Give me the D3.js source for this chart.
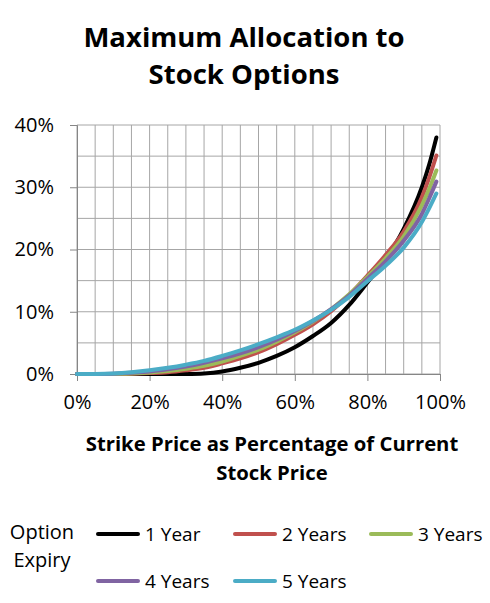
<!DOCTYPE html>
<html>
<head>
<meta charset="utf-8">
<script src="https://cdn.jsdelivr.net/npm/d3@7"></script>
<style>
  body { margin: 0; background: #fff; }
  text { font-family: "Open Sans", Lato, sans-serif; fill: #000; }
</style>
</head>
<body>
<div id="chart"></div>
<script>
// chart size
const width = 490;
const height = 603;
const margin = { left: 77, right: 50, top: 125, bottom: 229 };

// data (percent)
const strikePct = [0, 5, 10, 15, 20, 25, 30, 35, 40, 45, 50, 55, 60, 65, 70, 75, 80, 85, 90, 95, 97, 99];
const oneYear    = [0, 0, 0, 0, 0, 0, 0.02, 0.1, 0.4, 1.0, 1.8, 2.9, 4.3, 6.1, 8.2, 11.1, 14.7, 18.4, 23.3, 30.0, 33.6, 38.0];
const twoYears   = [0, 0, 0, 0.05, 0.15, 0.3, 0.6, 1.0, 1.7, 2.5, 3.5, 4.8, 6.3, 8.0, 10.1, 12.7, 15.8, 19.1, 22.9, 28.4, 31.5, 35.1];
const threeYears = [0, 0, 0.02, 0.1, 0.25, 0.5, 0.85, 1.3, 2.0, 2.9, 3.9, 5.2, 6.7, 8.4, 10.4, 12.8, 15.6, 18.6, 22.1, 27.1, 29.7, 32.7];
const fourYears  = [0, 0, 0.05, 0.2, 0.4, 0.75, 1.2, 1.8, 2.5, 3.3, 4.3, 5.5, 6.9, 8.5, 10.4, 12.6, 15.3, 18.1, 21.4, 25.7, 28.2, 30.9];
const fiveYears  = [0, 0.02, 0.1, 0.3, 0.6, 1.0, 1.5, 2.1, 2.9, 3.8, 4.8, 5.9, 7.1, 8.6, 10.3, 12.4, 14.9, 17.4, 20.3, 24.4, 26.6, 29.0];

const seriesNames = ["1 Year", "2 Years", "3 Years", "4 Years", "5 Years"];
const seriesValues = [oneYear, twoYears, threeYears, fourYears, fiveYears];
const seriesColors = ["#000000", "#c0504d", "#9bbb59", "#8064a2", "#4bacc6"];

const xTicks = [0, 20, 40, 60, 80, 100];
const yTicks = [0, 10, 20, 30, 40];

const svg = d3.select("#chart")
  .append("svg")
  .attr("width", width)
  .attr("height", height);

// scales
const x = d3.scaleLinear()
  .domain([0, 100])
  .range([margin.left, width - margin.right]);

const y = d3.scaleLinear()
  .domain([0, 40])
  .range([height - margin.bottom, margin.top]);

// title
const title = svg.append("text")
  .attr("text-anchor", "middle")
  .attr("font-size", "27.5px")
  .attr("font-weight", "bold");
title.append("tspan").attr("x", 244).attr("y", 47).text("Maximum Allocation to");
title.append("tspan").attr("x", 244).attr("y", 84).text("Stock Options");

// gridlines every 5%
svg.append("g")
  .selectAll("line")
  .data(d3.range(0, 101, 5))
  .join("line")
  .attr("x1", d => x(d)).attr("x2", d => x(d))
  .attr("y1", y(0)).attr("y2", y(40))
  .attr("stroke", "#a6a6a6")
  .attr("stroke-width", 1);

svg.append("g")
  .selectAll("line")
  .data(d3.range(0, 41, 5))
  .join("line")
  .attr("x1", x(0)).attr("x2", x(100))
  .attr("y1", d => y(d)).attr("y2", d => y(d))
  .attr("stroke", "#a6a6a6")
  .attr("stroke-width", 1);

// axes
const yAxis = svg.append("g")
  .attr("transform", `translate(${x(0)},0)`)
  .call(d3.axisLeft(y).tickValues(yTicks).tickSize(7).tickPadding(16).tickFormat(d => d + "%"));

const xAxis = svg.append("g")
  .attr("transform", `translate(0,${y(0)})`)
  .call(d3.axisBottom(x).tickValues(xTicks).tickSize(7).tickPadding(14).tickFormat(d => d + "%"));

[xAxis, yAxis].forEach(a => {
  a.select(".domain").attr("stroke", "#868686");
  a.selectAll(".tick line").attr("stroke", "#868686");
  a.selectAll("text")
    .attr("font-family", "'Open Sans', sans-serif")
    .attr("font-size", "20px")
    .attr("fill", "#000");
});

// axis title
const xTitle = svg.append("text")
  .attr("text-anchor", "middle")
  .attr("font-size", "20.3px")
  .attr("font-weight", "bold");
xTitle.append("tspan").attr("x", 272).attr("y", 451).text("Strike Price as Percentage of Current");
xTitle.append("tspan").attr("x", 272).attr("y", 480).text("Stock Price");

// lines
const line = d3.line()
  .x((d, i) => x(strikePct[i]))
  .y(d => y(d))
  .curve(d3.curveMonotoneX);

svg.append("g")
  .selectAll("path")
  .data(seriesValues)
  .join("path")
  .attr("d", d => line(d))
  .attr("fill", "none")
  .attr("stroke", (d, i) => seriesColors[i])
  .attr("stroke-width", 4)
  .attr("stroke-linecap", "round")
  .attr("stroke-linejoin", "round");

// legend
const legend = svg.append("g");
const legTitle = legend.append("text")
  .attr("text-anchor", "middle")
  .attr("font-size", "20px");
legTitle.append("tspan").attr("x", 42).attr("y", 539).text("Option");
legTitle.append("tspan").attr("x", 42).attr("y", 567).text("Expiry");

const legX = [98, 235, 371, 98, 235];
const legY = [534, 534, 534, 581, 581];

const items = legend.selectAll(".item")
  .data(seriesNames)
  .join("g")
  .attr("class", "item")
  .attr("transform", (d, i) => `translate(${legX[i]},${legY[i]})`);

items.append("line")
  .attr("x1", 0).attr("x2", 40)
  .attr("stroke", (d, i) => seriesColors[i])
  .attr("stroke-width", 4)
  .attr("stroke-linecap", "round");

items.append("text")
  .attr("x", 47)
  .attr("y", 7)
  .attr("font-size", "19px")
  .text(d => d);
</script>
</body>
</html>
